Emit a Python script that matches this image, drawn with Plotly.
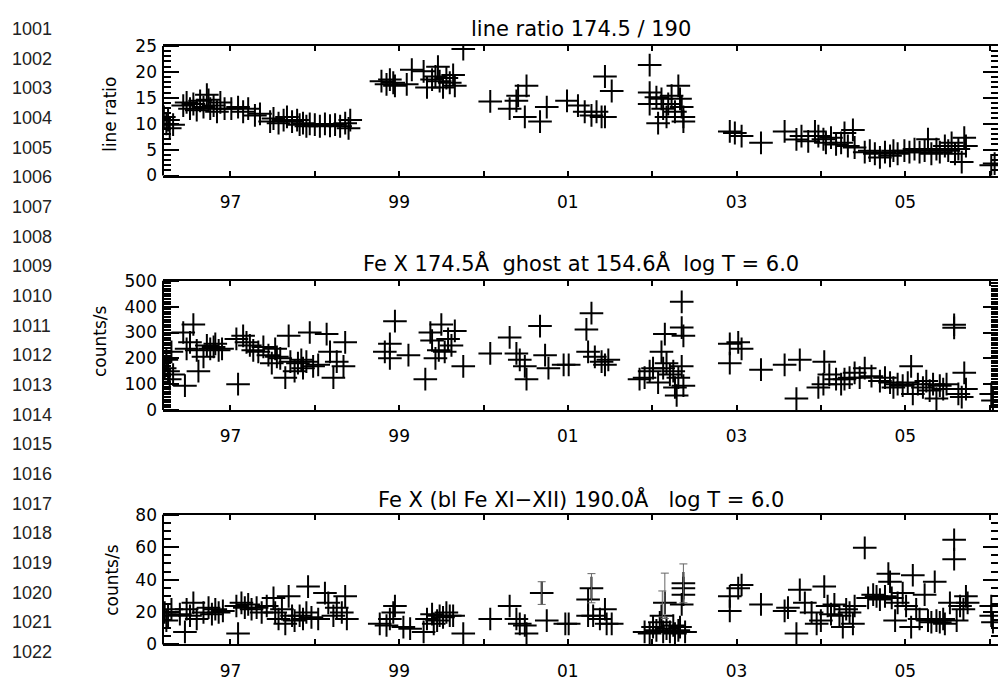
import plotly.graph_objects as go

W, H = 998, 685

# ---------------- data ----------------
ratio_year = [1996.21, 1996.24, 1996.26, 1996.28, 1996.32, 1996.44, 1996.48, 1996.52, 1996.56, 1996.60,
              1996.64, 1996.68, 1996.72, 1996.74, 1996.76, 1996.80, 1996.84, 1996.88, 1996.93, 1997.01,
              1997.09, 1997.15, 1997.21, 1997.29, 1997.35, 1997.47, 1997.51, 1997.57, 1997.63, 1997.67,
              1997.73, 1997.79, 1997.82, 1997.86, 1997.90, 1997.94, 1998.00, 1998.06, 1998.12, 1998.18,
              1998.24, 1998.30, 1998.36, 1998.40, 1998.42, 1998.79, 1998.85, 1998.89, 1998.93, 1998.95,
              1999.09, 1999.15, 1999.29, 1999.33, 1999.39, 1999.43, 1999.46, 1999.48, 1999.52, 1999.56,
              1999.60, 1999.64, 1999.66, 1999.76, 2000.08, 2000.31, 2000.39, 2000.41, 2000.51, 2000.49,
              2000.67, 2000.75, 2000.99, 2001.12, 2001.20, 2001.28, 2001.34, 2001.40, 2001.44, 2001.44,
              2001.52, 2001.97, 2001.97, 2001.97, 2002.05, 2002.07, 2002.11, 2002.13, 2002.17, 2002.19,
              2002.23, 2002.27, 2002.31, 2002.33, 2002.35, 2002.37, 2002.37, 2002.92, 2002.98, 2003.06,
              2003.29, 2003.57, 2003.71, 2003.77, 2003.85, 2003.93, 2003.97, 2004.03, 2004.06, 2004.12,
              2004.18, 2004.24, 2004.28, 2004.32, 2004.38, 2004.40, 2004.52, 2004.58, 2004.64, 2004.70,
              2004.76, 2004.82, 2004.86, 2004.91, 2004.99, 2005.05, 2005.11, 2005.17, 2005.23, 2005.27,
              2005.31, 2005.37, 2005.41, 2005.47, 2005.51, 2005.55, 2005.59, 2005.63, 2005.67, 2005.70,
              2005.72, 2006.02, 2006.06]
ratio_val = [11.3, 9.95, 10.7, 9.1, 9.8, 13.5, 14.1, 12.9, 13.8, 12.6,
             14.4, 13.2, 15.6, 14.6, 12.9, 13.5, 12.3, 14.1, 12.9, 12.9,
             13.2, 12.3, 12.9, 11.6, 11.9, 10.4, 11.0, 10.1, 10.7, 11.3,
             10.4, 10.7, 9.8, 10.1, 9.5, 9.95, 9.8, 9.5, 9.95, 9.6,
             9.8, 9.5, 10.1, 9.1, 10.7, 18.2, 17.6, 18.5, 17.9, 17.3,
             17.6, 20.4, 20.1, 17.0, 18.5, 19.1, 21.0, 18.2, 17.0, 18.8,
             17.9, 19.4, 17.3, 24.4, 14.3, 12.9, 14.4, 15.4, 17.3, 11.3,
             10.4, 13.2, 14.4, 13.5, 12.3, 11.6, 12.3, 11.3, 11.3, 19.1,
             16.3, 21.3, 16.0, 13.8, 15.1, 10.1, 14.8, 12.9, 11.3, 13.8,
             15.4, 12.3, 17.3, 14.8, 13.2, 11.3, 10.4, 8.5, 8.2, 7.6,
             6.3, 8.5, 6.96, 7.6, 6.6, 8.5, 7.6, 7.0, 6.3, 7.3,
             6.0, 6.3, 8.2, 5.7, 8.8, 5.4, 4.5, 4.8, 4.2, 3.5,
             4.5, 3.8, 4.8, 4.2, 4.8, 4.5, 5.1, 4.5, 4.8, 7.0,
             4.2, 5.1, 4.5, 5.7, 4.8, 6.3, 4.2, 5.1, 2.6, 7.3,
             5.7, 1.96, 2.3]

ghost_year = [1996.22, 1996.24, 1996.26, 1996.28, 1996.30, 1996.32, 1996.44, 1996.46, 1996.48, 1996.52,
              1996.56, 1996.60, 1996.62, 1996.68, 1996.72, 1996.76, 1996.80, 1996.82, 1996.86, 1996.90,
              1997.07, 1997.09, 1997.15, 1997.19, 1997.23, 1997.27, 1997.33, 1997.39, 1997.45, 1997.49,
              1997.53, 1997.55, 1997.59, 1997.65, 1997.69, 1997.71, 1997.76, 1997.80, 1997.84, 1997.86,
              1997.90, 1997.94, 1997.98, 1998.04, 1998.14, 1998.18, 1998.22, 1998.26, 1998.34, 1998.36,
              1998.83, 1998.89, 1998.89, 1998.95, 1999.11, 1999.31, 1999.37, 1999.39, 1999.43, 1999.47,
              1999.50, 1999.54, 1999.58, 1999.62, 1999.66, 1999.76, 2000.08, 2000.31, 2000.39, 2000.43,
              2000.49, 2000.51, 2000.67, 2000.73, 2000.77, 2000.95, 2001.01, 2001.22, 2001.24, 2001.28,
              2001.32, 2001.40, 2001.44, 2001.48, 2001.85, 2001.91, 2001.97, 2002.01, 2002.07, 2002.11,
              2002.13, 2002.15, 2002.17, 2002.21, 2002.25, 2002.27, 2002.29, 2002.31, 2002.35, 2002.35,
              2002.37, 2002.35, 2002.37, 2002.92, 2002.92, 2003.02, 2003.06, 2003.29, 2003.57, 2003.71,
              2003.75, 2003.97, 2004.03, 2004.04, 2004.10, 2004.18, 2004.24, 2004.28, 2004.34, 2004.40,
              2004.46, 2004.52, 2004.60, 2004.70, 2004.76, 2004.82, 2004.86, 2004.91, 2004.97, 2005.03,
              2005.07, 2005.09, 2005.15, 2005.21, 2005.25, 2005.29, 2005.33, 2005.37, 2005.41, 2005.45,
              2005.49, 2005.58, 2005.58, 2005.63, 2005.67, 2005.70, 2005.72, 2006.02, 2006.04]
ghost_val = [162, 194, 150, 119, 225, 137, 300, 94, 237, 262,
             331, 231, 150, 206, 250, 237, 244, 256, 231, 237,
             275, 100, 287, 262, 250, 231, 225, 244, 212, 181,
             237, 206, 200, 125, 287, 187, 150, 181, 194, 162,
             187, 300, 169, 175, 294, 225, 125, 187, 169, 262,
             225, 200, 256, 344, 212, 119, 300, 269, 200, 231,
             331, 225, 275, 250, 306, 169, 219, 281, 219, 194,
             169, 119, 325, 212, 162, 175, 175, 312, 225, 375,
             206, 187, 175, 194, 119, 125, 150, 162, 106, 225,
             162, 294, 181, 137, 150, 87, 56, 125, 419, 319,
             287, 169, 94, 256, 181, 262, 237, 156, 175, 44,
             194, 87, 100, 187, 137, 119, 100, 119, 125, 144,
             125, 162, 131, 112, 125, 106, 87, 100, 94, 106,
             169, 62, 100, 87, 112, 75, 100, 44, 94, 81,
             100, 330, 318, 62, 50, 144, 81, 62, 37]

fe190_year = [1996.22, 1996.24, 1996.26, 1996.30, 1996.40, 1996.46, 1996.48, 1996.52, 1996.56, 1996.60,
              1996.68, 1996.74, 1996.78, 1996.82, 1996.86, 1996.91, 1997.07, 1997.09, 1997.13, 1997.17,
              1997.21, 1997.25, 1997.31, 1997.37, 1997.43, 1997.51, 1997.53, 1997.57, 1997.61, 1997.65,
              1997.69, 1997.73, 1997.76, 1997.82, 1997.86, 1997.90, 1997.92, 1997.96, 1998.04, 1998.12,
              1998.16, 1998.22, 1998.26, 1998.32, 1998.36, 1998.38, 1998.77, 1998.85, 1998.89, 1998.93,
              1998.95, 1999.05, 1999.13, 1999.29, 1999.33, 1999.39, 1999.41, 1999.45, 1999.48, 1999.52,
              1999.56, 1999.60, 1999.64, 1999.76, 2000.08, 2000.31, 2000.39, 2000.43, 2000.49, 2000.51,
              2000.69, 2000.75, 2000.97, 2001.01, 2001.24, 2001.24, 2001.28, 2001.30, 2001.38, 2001.44,
              2001.46, 2001.52, 2001.91, 2001.97, 2002.01, 2002.05, 2002.09, 2002.11, 2002.13, 2002.15,
              2002.17, 2002.21, 2002.25, 2002.27, 2002.31, 2002.33, 2002.35, 2002.37, 2002.37, 2002.37,
              2002.39, 2002.92, 2002.92, 2003.02, 2003.06, 2003.29, 2003.57, 2003.61, 2003.71, 2003.75,
              2003.81, 2003.89, 2003.95, 2004.00, 2004.04, 2004.08, 2004.12, 2004.16, 2004.22, 2004.26,
              2004.30, 2004.34, 2004.38, 2004.40, 2004.52, 2004.56, 2004.62, 2004.66, 2004.70, 2004.76,
              2004.80, 2004.82, 2004.84, 2004.88, 2004.91, 2004.97, 2005.01, 2005.07, 2005.09, 2005.13,
              2005.17, 2005.23, 2005.27, 2005.31, 2005.35, 2005.37, 2005.41, 2005.45, 2005.47, 2005.53,
              2005.58, 2005.58, 2005.61, 2005.65, 2005.69, 2005.72, 2005.74, 2006.02, 2006.04, 2006.02]
fe190_val = [19.7, 14.7, 17.7, 21.7, 18.7, 7.7, 21.7, 17.7, 25.7, 15.7,
             19.7, 22.7, 18.7, 21.7, 19.7, 20.7, 23.7, 6.7, 25.7, 22.7,
             24.7, 21.7, 22.7, 19.7, 23.7, 28.7, 19.7, 15.7, 21.7, 12.7,
             29.7, 17.7, 14.7, 17.7, 15.7, 19.7, 35.7, 16.7, 15.7, 31.7,
             25.7, 17.7, 22.7, 19.7, 29.7, 15.7, 12.7, 11.7, 15.7, 19.7,
             23.7, 10.7, 9.7, 7.7, 15.7, 18.7, 12.7, 14.7, 17.7, 16.7,
             19.7, 17.7, 17.7, 6.7, 15.7, 23.7, 15.7, 12.7, 11.7, 6.7,
             31.7, 14.7, 12.7, 12.7, 27.7, 17.7, 34.7, 17.7, 15.7, 21.7,
             12.7, 12.7, 7.7, 6.7, 10.7, 8.7, 13.7, 17.7, 7.7, 25.7,
             9.7, 7.7, 11.7, 6.7, 8.7, 10.7, 24.7, 30.7, 37.7, 34.7,
             7.7, 29.7, 20.7, 34.7, 36.7, 24.7, 20.7, 22.7, 6.7, 33.7,
             25.7, 19.7, 12.7, 14.7, 35.7, 23.7, 18.7, 24.7, 17.7, 10.7,
             21.7, 19.7, 12.7, 23.7, 59.6, 28.7, 30.7, 29.7, 27.7, 29.7,
             43.7, 38.7, 28.7, 14.7, 25.7, 31.7, 23.7, 10.7, 42.7, 21.7,
             15.7, 30.7, 14.7, 13.7, 38.7, 14.7, 13.7, 15.7, 12.7, 25.7,
             52.6, 64.6, 14.7, 23.7, 21.7, 29.7, 25.7, 23.7, 13.7, 17.7]

# larger statistical error bars (thin, capped) visible in the 190 panel
fe190_cap_year = [2000.69, 2001.28, 2002.12, 2002.15, 2002.37]
fe190_cap_val = [31.7, 34.7, 25.0, 30.0, 37.7]
fe190_cap_err = [7, 9, 8, 14, 12]

# half-widths of the crosses (time bin, value uncertainty)
time_halfwidth = 0.14
ratio_err = 2.2
ghost_err = 44
fe190_err = 7

year_ticks = [1997, 1998, 1999, 2000, 2001, 2002, 2003, 2004, 2005, 2006]
year_labels = ["97", "", "99", "", "01", "", "03", "", "05", ""]

titles = ["line ratio 174.5 / 190",
          "Fe X 174.5Å  ghost at 154.6Å  log T = 6.0",
          "Fe X (bl Fe XI−XII) 190.0Å   log T = 6.0"]
ytitles = ["line ratio", "counts/s", "counts/s"]
line_numbers = [str(n) for n in range(1001, 1023)]

# ---------------- layout helpers ----------------
FONT = "DejaVu Sans"
PLOT_L, PLOT_R = 163, 998
panels_px = [(37, 170.5), (279, 412), (520, 653.5)]
yranges = [[0, 25], [0, 500], [0, 80]]
ymajor = [5, 100, 20]
yminor = [1, 10, 5]

def py(p):
    return 1 - p / H

fig = go.Figure()

series = [(ratio_year, ratio_val, ratio_err),
          (ghost_year, ghost_val, ghost_err),
          (fe190_year, fe190_val, fe190_err)]

for i, (xs, ys, ey) in enumerate(series):
    xa = "x" if i == 0 else f"x{i+1}"
    ya = "y" if i == 0 else f"y{i+1}"
    fig.add_trace(go.Scatter(
        x=xs, y=ys, mode="markers", xaxis=xa, yaxis=ya,
        marker=dict(size=2, color="black"),
        error_x=dict(type="constant", value=time_halfwidth, width=0, thickness=2, color="black"),
        error_y=dict(type="constant", value=ey, width=0, thickness=2, color="black"),
        hoverinfo="x+y", showlegend=False))

fig.add_trace(go.Scatter(
    x=fe190_cap_year, y=fe190_cap_val, mode="markers", xaxis="x3", yaxis="y3",
    marker=dict(size=1, color="#555"),
    error_y=dict(type="data", array=fe190_cap_err, width=4, thickness=1, color="#666"),
    showlegend=False))

# empty anchors so the helper axes get drawn
for i in range(3):
    xa = "x" if i == 0 else f"x{i+1}"
    for k in (4, 7):
        fig.add_trace(go.Scatter(x=[None], y=[None], xaxis=xa, yaxis=f"y{i+k}",
                                 mode="markers", showlegend=False, hoverinfo="skip"))

layout = dict(width=W, height=H, margin=dict(l=0, r=0, t=0, b=0),
              paper_bgcolor="white", plot_bgcolor="white", showlegend=False,
              font=dict(family=FONT, size=17, color="black"))

shapes = []
for i in range(3):
    top, bot = panels_px[i]
    xk = "xaxis" if i == 0 else f"xaxis{i+1}"
    yk = "yaxis" if i == 0 else f"yaxis{i+1}"
    xa = "x" if i == 0 else f"x{i+1}"
    ya = "y" if i == 0 else f"y{i+1}"
    layout[xk] = dict(domain=[PLOT_L / W, 1], anchor=ya, range=[1996.2, 2006.1],
                      tickmode="array", tickvals=year_ticks, ticktext=year_labels,
                      ticks="inside", ticklen=5, tickwidth=1.5, tickcolor="black",
                      showline=True, linewidth=2, linecolor="black", mirror="ticks",
                      showgrid=False, zeroline=False,
                      tickfont=dict(family=FONT, size=17, color="black"),
                      ticklabelstandoff=10)
    tick_common = dict(range=yranges[i], tickmode="linear", tick0=0, dtick=ymajor[i],
                       ticklen=15, tickwidth=1.5, tickcolor="black",
                       showgrid=False, zeroline=False, showline=False, showticklabels=False)
    # right-edge ticks
    layout[yk] = dict(tick_common, domain=[py(bot), py(top)], anchor=xa, side="right",
                      ticks="inside",
                      minor=dict(dtick=yminor[i], ticks="inside", ticklen=7, tickwidth=1.5,
                                 tickcolor="black", showgrid=False))
    # left-edge ticks: a free axis sitting on the left frame, ticks pointing into the plot
    layout[f"yaxis{i+4}"] = dict(tick_common, overlaying=ya, anchor="free",
                                 position=PLOT_L / W, side="right", ticks="outside",
                                 minor=dict(dtick=yminor[i], ticks="outside", ticklen=7,
                                            tickwidth=1.5, tickcolor="black", showgrid=False))
    # label axis on the left
    layout[f"yaxis{i+7}"] = dict(overlaying=ya, side="left", anchor=xa, range=yranges[i],
                                 tickmode="linear", tick0=0, dtick=ymajor[i], ticks="",
                                 showgrid=False, zeroline=False, showline=False,
                                 tickfont=dict(family=FONT, size=17, color="black"),
                                 ticklabelstandoff=5)
    shapes.append(dict(type="line", xref=f"{xa} domain", yref=f"{ya} domain",
                       x0=0, x1=0, y0=0, y1=1, line=dict(color="black", width=2), layer="above"))

fig.update_layout(**layout)

ann = []
title_py = [20, 261, 504]
xc = (PLOT_L + PLOT_R) / 2 / W
for i in range(3):
    ann.append(dict(text=titles[i], xref="paper", yref="paper", x=xc, y=py(title_py[i]),
                    xanchor="center", yanchor="middle", showarrow=False,
                    font=dict(family=FONT, size=21, color="black")))
ytitle_px = [(110, 108), (100, 341), (112, 587)]
for i in range(3):
    xp, ypx = ytitle_px[i]
    ann.append(dict(text=ytitles[i], xref="paper", yref="paper", x=xp / W, y=py(ypx),
                    xanchor="center", yanchor="middle", textangle=-90, showarrow=False,
                    font=dict(family=FONT, size=17, color="black")))
for k, s in enumerate(line_numbers):
    ann.append(dict(text=s, xref="paper", yref="paper", x=10 / W, y=py(19.4 + 30.57 * k),
                    xanchor="left", yanchor="middle", showarrow=False,
                    font=dict(family="Liberation Sans", size=18, color="#222")))
fig.update_layout(annotations=ann, shapes=shapes)

fig.write_html("out.html")
